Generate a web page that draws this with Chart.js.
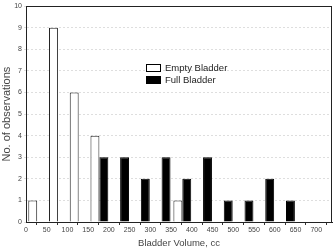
<!DOCTYPE html>
<html>
<head>
<meta charset="utf-8">
<script src="https://cdn.jsdelivr.net/npm/chart.js@4"></script>
<style>
  html, body { margin: 0; padding: 0; background: #fff; }
  #wrap { width: 333px; height: 249px; }
</style>
</head>
<body>
<div id="wrap"><canvas id="chart"></canvas></div>
<script>
'use strict';

// Bin centres (cc), counts per bin
const binCenters = [25, 75, 125, 175, 225, 275, 325, 375, 425, 475, 525, 575, 625, 675];
const emptyCounts = [1, 9, 6, 4, 0, 0, 0, 1, 0, 0, 0, 0, 0, 0];
const fullCounts = [0, 0, 0, 3, 3, 2, 3, 2, 3, 1, 1, 2, 1, 0];
const seriesNames = ['Empty Bladder', 'Full Bladder'];

// Build points, skip empty bins
function toPoints(counts) {
    return binCenters.map((x, i) => ({ x: x + 2, y: counts[i] === 0 ? null : counts[i] }));
}

const textColor = '#444';
const fontFamily = '"Liberation Sans", Arial, sans-serif';

// Frame round the plot area
const framePlugin = {
    id: 'frame',
    afterDraw(chart) {
        const a = chart.chartArea;
        const ctx = chart.ctx;
        ctx.save();
        ctx.strokeStyle = '#222';
        ctx.lineWidth = 1;
        ctx.strokeRect(Math.round(a.left) + 0.5, Math.round(a.top) + 0.5,
            Math.round(a.right - a.left) - 1, Math.round(a.bottom - a.top));
        ctx.restore();
    }
};

// Legend inside the plot
const innerLegend = {
    id: 'innerLegend',
    afterDraw(chart) {
        const ctx = chart.ctx;
        const xs = chart.scales.x, ys = chart.scales.y;
        const left = Math.round(xs.getPixelForValue(290));
        let top = Math.round(ys.getPixelForValue(7.3));
        ctx.save();
        ctx.font = '9.5px ' + fontFamily;
        ctx.textBaseline = 'middle';
        chart.data.datasets.forEach((ds, i) => {
            const y = top + i * 12;
            ctx.fillStyle = ds.backgroundColor;
            ctx.fillRect(left, y, 15, 8);
            ctx.strokeStyle = '#000';
            ctx.lineWidth = 1;
            ctx.strokeRect(left + 0.5, y + 0.5, 14, 7);
            ctx.fillStyle = '#222';
            ctx.fillText(ds.label, left + 19, y + 4);
        });
        ctx.restore();
    }
};

new Chart(document.getElementById('chart'), {
    type: 'bar',
    data: {
        datasets: [{
            label: seriesNames[0],
            data: toPoints(emptyCounts),
            backgroundColor: '#ffffff',
            borderColor: '#222',
            borderWidth: 1,
            borderSkipped: 'bottom'
        }, {
            label: seriesNames[1],
            data: toPoints(fullCounts),
            backgroundColor: '#000000',
            borderColor: '#000',
            borderWidth: 1,
            borderSkipped: 'bottom'
        }]
    },
    options: {
        responsive: true,
        maintainAspectRatio: false,
        animation: false,
        categoryPercentage: 0.86,
        barPercentage: 1,
        layout: { padding: { top: 5, right: 1, left: 0, bottom: 0 } },
        plugins: {
            legend: { display: false },
            tooltip: { enabled: false }
        },
        scales: {
            x: {
                type: 'linear',
                min: 0,
                max: 738,
                offset: false,
                afterFit: (s) => { s.height = 27; },
                afterBuildTicks: (s) => {
                    s.ticks = [];
                    for (let v = 0; v <= 700; v += 50) s.ticks.push({ value: v });
                },
                ticks: {
                    color: textColor,
                    font: { size: 7, family: fontFamily },
                    padding: 1,
                    maxRotation: 0,
                    autoSkip: false
                },
                grid: { drawOnChartArea: false, tickLength: 3, color: '#333' },
                border: { color: '#222' },
                title: {
                    display: true,
                    text: 'Bladder Volume, cc',
                    color: textColor,
                    font: { size: 9.5, family: fontFamily },
                    padding: { top: 2, bottom: 0 }
                }
            },
            y: {
                min: 0,
                max: 10,
                afterFit: (s) => { s.width = 26; },
                ticks: {
                    stepSize: 1,
                    color: textColor,
                    font: { size: 7, family: fontFamily },
                    padding: 2
                },
                grid: { color: '#dedede', tickLength: 2 },
                border: { color: '#222', dash: [2, 2] },
                title: {
                    display: true,
                    text: 'No. of observations',
                    color: textColor,
                    font: { size: 11, family: fontFamily },
                    padding: { top: 0, bottom: 1 }
                }
            }
        }
    },
    plugins: [framePlugin, innerLegend]
});
</script>
</body>
</html>
